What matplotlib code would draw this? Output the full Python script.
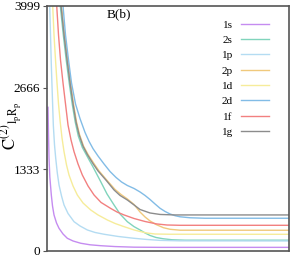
import matplotlib
matplotlib.use("Agg")
import matplotlib.pyplot as plt

OUTPUT = "out.png"

# curves (x has no scale in the original, 0..242 here)
LABELS = ["1s", "2s", "1p", "2p", "1d", "2d", "1f", "1g"]
COLORS = ["#c58cf0", "#80d4bc", "#b4dcf2", "#f0c97c", "#f6ec9a", "#82bce6", "#f28080", "#8c8c8c"]

x_1s = [1, 1.5, 2, 2.8, 4.3, 5.5, 7, 9.5, 12, 16, 20.3, 26, 33.7, 43, 53.7, 68, 87, 113, 242]
y_1s = [2345, 1893, 1518, 1208, 914, 734, 588, 457, 370, 277, 207, 163, 126, 101, 86, 72, 62, 59, 59]

x_2s = [13.3, 16.3, 19.2, 22.2, 25.2, 28.2, 31.3, 35.3, 40.3, 46, 53.7, 60, 67, 73, 80.3, 87,
        93, 98, 103, 109, 116.3, 125, 138, 242]
y_2s = [3999, 3525, 3117, 2742, 2399, 2105, 1875, 1690, 1540, 1371, 1131, 930, 751, 604, 478, 397,
        343, 294, 253, 220, 199, 183, 176, 176]

x_1p = [2.7, 3.5, 4.3, 5.3, 6.3, 7.5, 8.7, 10.3, 12, 14.5, 17, 21, 27, 33, 40.3, 48, 57, 71, 87,
        99.7, 113, 133, 242]
y_1p = [3999, 3525, 3036, 2546, 2056, 1730, 1513, 1273, 1077, 898, 751, 612, 478, 408, 343, 302,
        273, 237, 207, 188, 173, 165, 163]

x_2p = [14.5, 17.5, 20.5, 23.5, 26.5, 29.5, 32.5, 36.5, 41, 47, 52, 60.5, 68, 74, 80.3, 87, 93,
        98, 103, 109, 116.3, 123, 133, 242]
y_2p = [3999, 3525, 3117, 2742, 2399, 2105, 1900, 1712, 1575, 1425, 1306, 1142, 1004, 922, 849,
        759, 636, 555, 490, 432, 380, 354, 339, 338]

x_1d = [5.7, 7, 8.5, 10, 11.5, 13.2, 15, 17, 19.5, 22, 26, 30.3, 36, 43.7, 51, 60.3, 68, 77, 87,
        93, 99.7, 108, 123, 242]
y_1d = [3999, 3525, 3117, 2742, 2399, 2105, 1844, 1621, 1404, 1240, 1061, 914, 783, 669, 588, 506,
        449, 397, 343, 318, 294, 277, 273, 272]

x_2d = [16, 18.5, 21.5, 24.5, 28.5, 33, 38, 42, 46, 51, 57, 63, 69, 74.5, 80.3, 87, 93, 98, 103,
        108, 113, 118, 123, 128, 133, 143, 158, 242]
y_2d = [3999, 3525, 3117, 2742, 2399, 2160, 1935, 1790, 1670, 1550, 1420, 1297, 1200, 1126, 1069,
        1020, 963, 906, 840, 767, 697, 645, 604, 576, 558, 542, 534, 534]

x_1f = [9.7, 11.5, 13.5, 16, 18.5, 21, 24, 27, 31, 35.3, 41, 47, 54, 63.7, 70, 77, 87, 98, 109.7,
        120, 133, 242]
y_1f = [3999, 3525, 3117, 2742, 2399, 2056, 1812, 1621, 1420, 1240, 1061, 914, 792, 694, 636, 588,
        530, 481, 441, 424, 419, 419]

x_1g = [14, 17, 20, 23, 26, 29, 32, 36, 40.3, 46, 51, 59.7, 67, 73, 80.3, 87, 93, 103, 113, 128, 242]
y_1g = [3999, 3525, 3117, 2742, 2399, 2105, 1900, 1710, 1575, 1425, 1306, 1142, 996, 906, 832, 751,
        677, 620, 596, 588, 588]

Y_TICKS = [0, 1333, 2666, 3999]


def main():
    plt.rcParams["font.family"] = "Liberation Serif"
    plt.rcParams["mathtext.fontset"] = "stix"

    fig = plt.figure(figsize=(2.92, 2.59), dpi=100)
    ax = fig.add_axes([0.161, 0.031, 0.829, 0.946])

    series = [
        (x_1s, y_1s), (x_2s, y_2s), (x_1p, y_1p), (x_2p, y_2p),
        (x_1d, y_1d), (x_2d, y_2d), (x_1f, y_1f), (x_1g, y_1g),
    ]
    for (xs, ys), lab, col in zip(series, LABELS, COLORS):
        ax.plot(xs, ys, color=col, lw=1.0, label=lab)

    ax.set_xlim(0, 242)
    ax.set_ylim(0, 3999)
    ax.set_xticks([])
    ax.set_yticks(Y_TICKS)
    ax.set_yticklabels([str(t) for t in Y_TICKS], fontsize=9.5)
    ax.tick_params(axis="y", direction="out", length=3, width=0.8, color="#555555", pad=2)
    for sp in ax.spines.values():
        sp.set_color("#555555")
        sp.set_linewidth(1.2)

    # y label placed by hand, it sits over the tick label column in the original
    # (gnuplot style: subscript comes after the superscript)
    ax.text(-0.145, 0.51, r"$\mathrm{C}^{(2)}{}_{\mathrm{l_p R_p}}$", transform=ax.transAxes,
            rotation=90, ha="center", va="center", fontsize=12)
    ax.text(0.247, 0.99, "B(b)", transform=ax.transAxes, fontsize=9.5, va="top", ha="left")

    ax.legend(loc="upper right", bbox_to_anchor=(0.919, 0.943), frameon=False,
              markerfirst=False, fontsize=8, handlelength=2.6, handletextpad=0.7,
              labelspacing=0.5, borderaxespad=0, borderpad=0)

    fig.savefig(OUTPUT, dpi=100)


if __name__ == "__main__":
    main()
